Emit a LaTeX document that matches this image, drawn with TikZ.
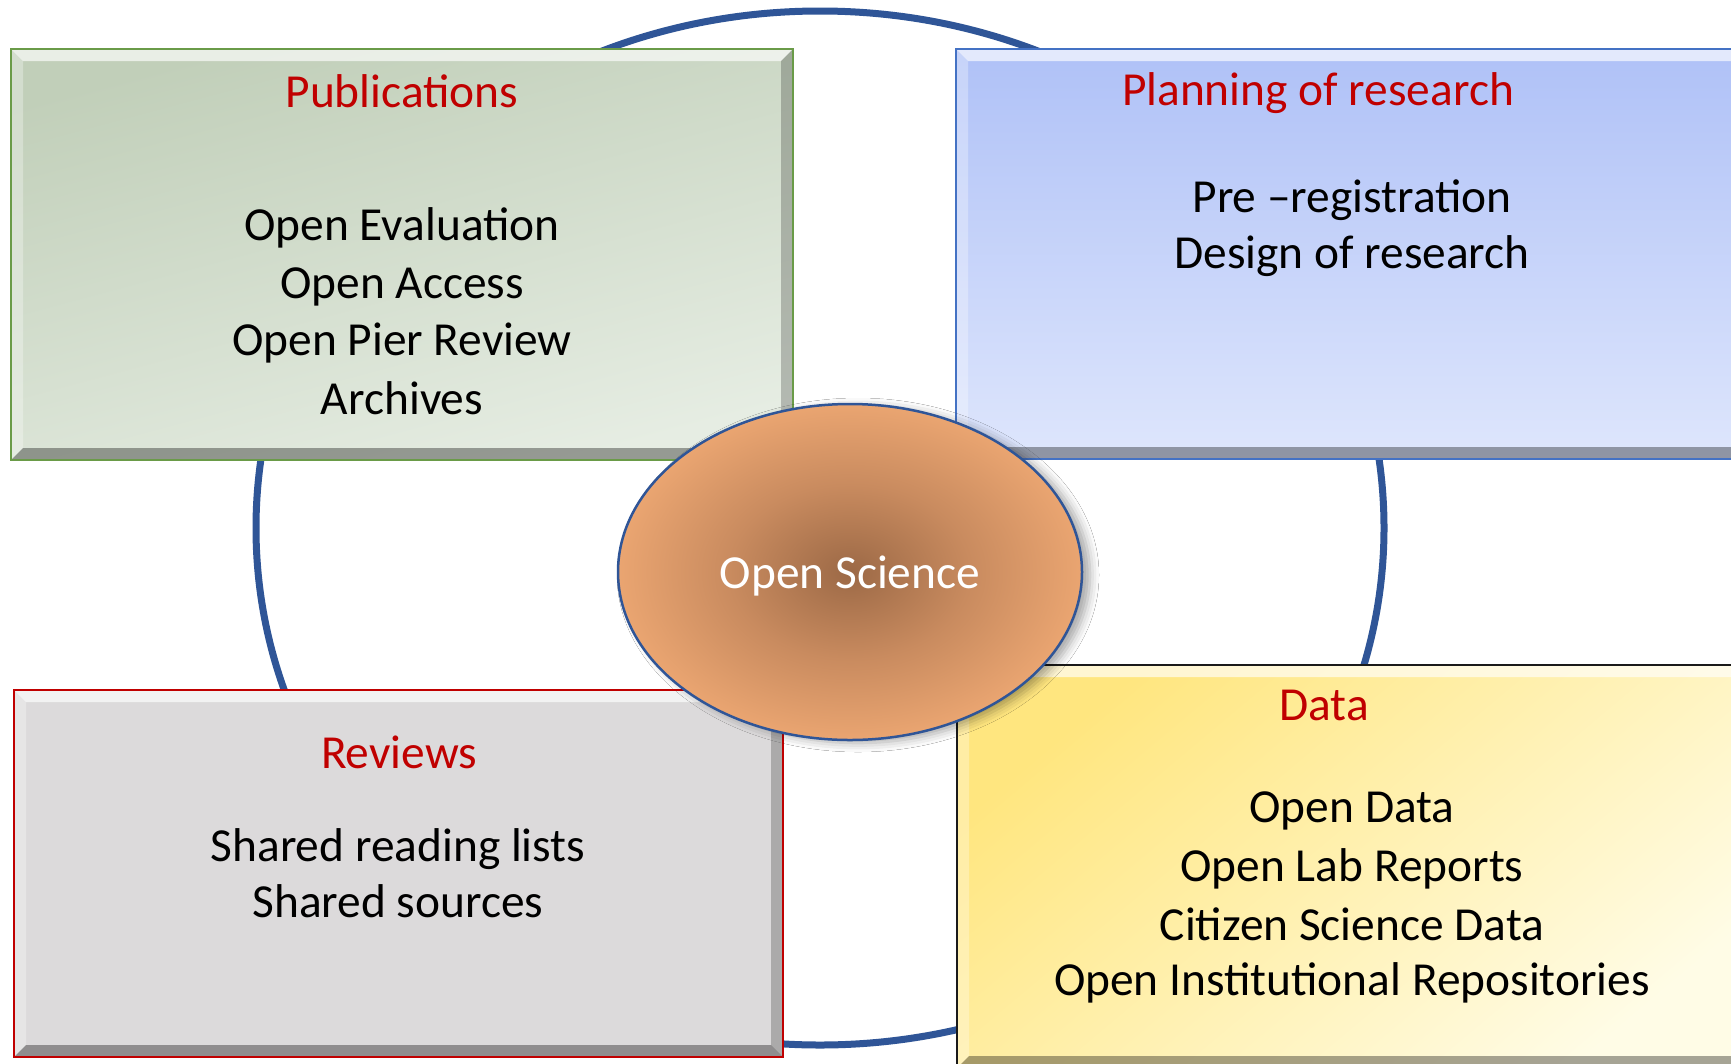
\documentclass[tikz,border=0pt]{standalone}
\usepackage{fontspec}
\setmainfont{Carlito}
\usetikzlibrary{shapes.geometric,shadows.blur,calc}
\definecolor{ringblue}{HTML}{2F5597}
\definecolor{titlered}{HTML}{C00000}
\definecolor{pubtop}{HTML}{C1CFB9}
\definecolor{pubbot}{HTML}{E6EDE3}
\definecolor{publine}{HTML}{6A9B48}
\definecolor{plantop}{HTML}{AFC1F7}
\definecolor{planbot}{HTML}{DEE6FC}
\definecolor{planline}{HTML}{4472C4}
\definecolor{revfill}{HTML}{DCDADB}
\definecolor{revline}{HTML}{C00000}
\definecolor{datatop}{HTML}{FFE67F}
\definecolor{databot}{HTML}{FFFCE6}
\definecolor{dataline}{HTML}{1A1A1A}
\definecolor{osin}{HTML}{9C6946}
\definecolor{osmid}{HTML}{C98B5F}
\definecolor{osout}{HTML}{EAA571}
\pgfdeclareradialshading{osshade}{\pgfpoint{0bp}{0bp}}{color(0bp)=(osin); color(13bp)=(osmid); color(25bp)=(osout); color(50bp)=(osout)}
\newcommand\bevelbox[1]{%
  \fill[white,opacity=.65] (#1.north west) -- (#1.north east) -- ($(#1.north east)+(-12,12)$) -- ($(#1.north west)+(12,12)$) -- cycle;
  \fill[white,opacity=.3] (#1.north west) -- ($(#1.north west)+(12,12)$) -- ($(#1.south west)+(12,-12)$) -- (#1.south west) -- cycle;
  \fill[black,opacity=.35] (#1.south west) -- ($(#1.south west)+(12,-12)$) -- ($(#1.south east)+(-12,-12)$) -- (#1.south east) -- cycle;
  \fill[black,opacity=.22] (#1.north east) -- ($(#1.north east)+(-12,12)$) -- ($(#1.south east)+(-12,-12)$) -- (#1.south east) -- cycle;
}
\begin{document}
\begin{tikzpicture}[x=1pt,y=-1pt,
  box/.style={rectangle, inner sep=0pt, outer sep=0pt},
  frame/.style={line width=2.5pt},
  txt/.style={font=\fontsize{47.4}{58}\selectfont, anchor=base, inner sep=0pt},
  ttl/.style={txt, text=titlered},
  ring/.style={draw=ringblue, line width=7pt, ellipse, inner sep=0pt}]
\useasboundingbox (0,0) rectangle (1731,1063);
\clip (0,0) rectangle (1731,1063);
\fill[white] (0,0) rectangle (1731,1063);

% outer ring
\node[ring, minimum width=1128pt, minimum height=1034pt] (ring) at (820,528) {};

% Publications box
\node[box, top color=pubtop, bottom color=pubbot, shading angle=15, minimum width=782pt, minimum height=411pt] (pub) at (402,254.5) {};
\bevelbox{pub}
\draw[frame, publine] (pub.north west) rectangle (pub.south east);

% Planning box
\node[box, top color=plantop, bottom color=planbot, minimum width=804pt, minimum height=410pt] (plan) at (1358,254) {};
\bevelbox{plan}
\draw[frame, planline] (plan.north west) rectangle (plan.south east);

% Reviews box
\node[box, fill=revfill, minimum width=769pt, minimum height=367pt] (rev) at (398.5,873.5) {};
\bevelbox{rev}
\draw[frame, revline] (rev.north west) rectangle (rev.south east);

% Data box
\node[box, top color=datatop, bottom color=databot, shading angle=40, minimum width=803pt, minimum height=403pt] (data) at (1358.5,866.5) {};
\bevelbox{data}
\draw[frame, dataline] (data.north west) rectangle (data.south east);

% texts
\node[ttl] (pubT) at (402,107) {Publications};
\node[txt] (pub1) at (402,240) {Open Evaluation};
\node[txt] (pub2) at (402,298) {Open Access};
\node[txt] (pub3) at (402,355) {Open Pier Review};
\node[txt] (pub4) at (402,414) {Archives};

\node[ttl] (planT) at (1318,105) {Planning of research};
\node[txt] (plan1) at (1352,212) {Pre –registration};
\node[txt] (plan2) at (1352,268) {Design of research};

\node[ttl] (revT) at (399,768) {Reviews};
\node[txt] (rev1) at (398,861) {Shared reading lists};
\node[txt] (rev2) at (398,917) {Shared sources};

\node[ttl] (dataT) at (1324,720) {Data};
\node[txt] (data1) at (1352,822) {Open Data};
\node[txt] (data2) at (1352,881) {Open Lab Reports};
\node[txt] (data3) at (1352,940) {Citizen Science Data};
\node[txt] (data4) at (1352,995) {Open Institutional Repositories};

% centre ellipse
\node[ellipse, draw=ringblue, line width=2.5pt, shade, shading=osshade, minimum width=464pt, minimum height=336pt, inner sep=0pt,
  blur shadow={shadow xshift=8pt, shadow yshift=-3pt, shadow blur radius=9pt, shadow opacity=35}] (os) at (850,572) {};
\node[txt, text=white] (osT) at (850,588) {Open Science};
\end{tikzpicture}
\end{document}
